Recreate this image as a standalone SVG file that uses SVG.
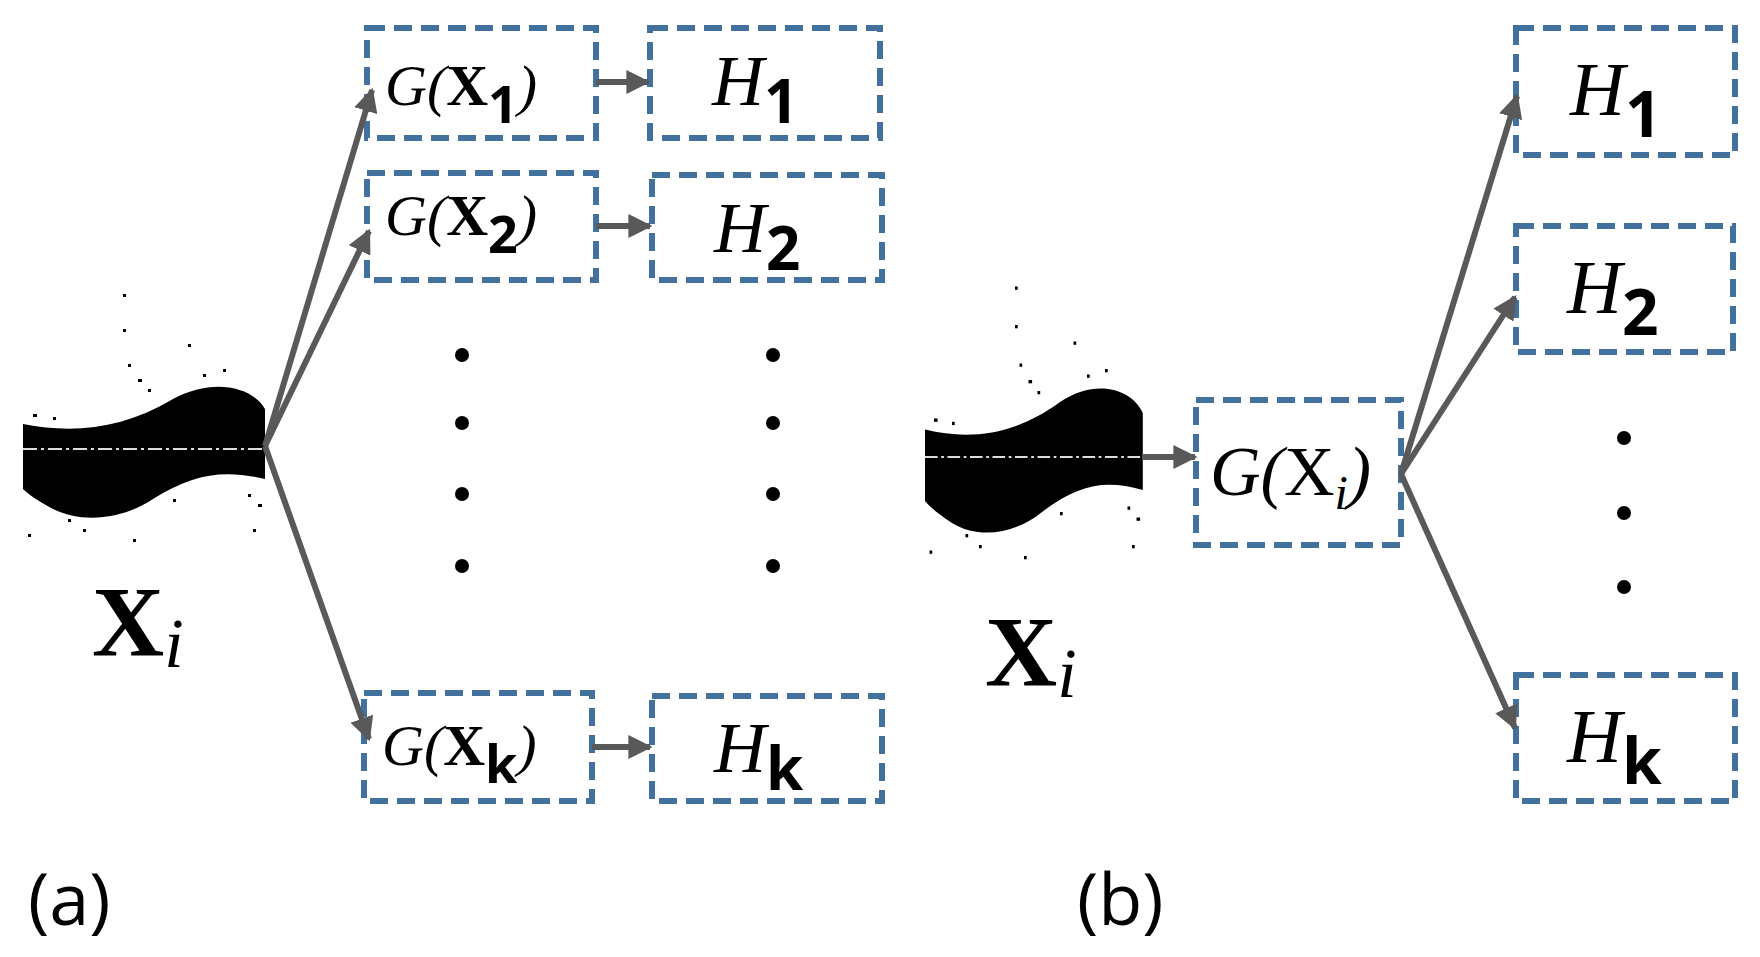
<svg xmlns="http://www.w3.org/2000/svg" width="1760" height="957" viewBox="0 0 1760 957">
<style>
.box{fill:none;stroke:#41719c;stroke-width:6;stroke-dasharray:18 9}
.con{stroke:#595959;stroke-width:6;fill:none;marker-end:url(#ah)}
.m{font-family:"Liberation Serif",serif;font-style:italic;fill:#000}
.x{font-family:"Liberation Serif",serif;font-weight:bold;fill:#000}
.s{font-family:"Open Sans","Liberation Sans",sans-serif;font-weight:bold;fill:#000}
.lab{font-family:"Open Sans","Liberation Sans",sans-serif;font-size:72px;fill:#000}
.dot{fill:#000}
</style>
<defs>
<marker id="ah" viewBox="0 0 10 10" refX="9" refY="5" markerWidth="4" markerHeight="4" orient="auto" markerUnits="strokeWidth"><path d="M0,0L10,5L0,10z" fill="#595959"/></marker>
<g id="scatter">
<path d="M0,-25 C50,-15 100,-20 150,-50 C190,-72 230,-62 242,-40 L242,30 C200,20 170,25 130,50 C100,70 60,75 30,60 C15,52 5,45 0,40 Z" fill="#000"/>
<line x1="0" y1="0" x2="242" y2="0" stroke="#ddd" stroke-width="2" stroke-dasharray="14 4 3 4"/>
<g fill="#000"><rect x="100" y="-155" width="3" height="3"/><rect x="165" y="-105" width="3" height="3"/><rect x="100" y="-120" width="3" height="3"/><rect x="115" y="-70" width="4" height="3"/><rect x="125" y="-60" width="3" height="3"/><rect x="105" y="-85" width="3" height="3"/><rect x="10" y="-35" width="4" height="3"/><rect x="30" y="-32" width="3" height="3"/><rect x="5" y="85" width="3" height="3"/><rect x="110" y="90" width="3" height="3"/><rect x="230" y="80" width="3" height="3"/><rect x="225" y="45" width="3" height="3"/><rect x="235" y="55" width="4" height="3"/><rect x="60" y="80" width="3" height="3"/><rect x="150" y="50" width="3" height="3"/><rect x="200" y="-80" width="3" height="3"/><rect x="180" y="-75" width="3" height="3"/><rect x="45" y="70" width="3" height="3"/></g>
</g>
</defs>

<g id="scatter-a"><use href="#scatter" transform="translate(23,449)"/></g>
<g id="label-xi-a"><text x="92" y="655" class="x" font-size="100">X<tspan class="m" font-weight="normal" font-size="70" dy="12">i</tspan></text></g>

<g id="g1"><rect class="box" x="367" y="28" width="229" height="110"/><text x="385" y="105" class="m" font-size="58">G(<tspan class="x" font-style="normal">X</tspan><tspan class="s" font-style="normal" font-size="52" dy="18">1</tspan><tspan dy="-18">)</tspan></text></g>
<g id="h1a"><rect class="box" x="650" y="28" width="230" height="110"/><text x="712" y="105" class="m" font-size="72">H<tspan class="s" font-style="normal" font-size="60" dy="18">1</tspan></text></g>
<g id="g2"><rect class="box" x="367" y="173" width="229" height="107"/><text x="385" y="235" class="m" font-size="58">G(<tspan class="x" font-style="normal">X</tspan><tspan class="s" font-style="normal" font-size="52" dy="18">2</tspan><tspan dy="-18">)</tspan></text></g>
<g id="h2a"><rect class="box" x="652" y="175" width="230" height="105"/><text x="714" y="252" class="m" font-size="72">H<tspan class="s" font-style="normal" font-size="60" dy="18">2</tspan></text></g>
<g id="gk"><rect class="box" x="364" y="693" width="228" height="108"/><text x="382" y="765" class="m" font-size="58">G(<tspan class="x" font-style="normal">X</tspan><tspan class="s" font-style="normal" font-size="52" dy="18">k</tspan><tspan dy="-18">)</tspan></text></g>
<g id="hka"><rect class="box" x="652" y="696" width="230" height="105"/><text x="714" y="772" class="m" font-size="72">H<tspan class="s" font-style="normal" font-size="60" dy="18">k</tspan></text></g>

<g id="dots-a"><circle class="dot" cx="462" cy="355" r="7"/><circle class="dot" cx="462" cy="423" r="7"/><circle class="dot" cx="462" cy="494" r="7"/><circle class="dot" cx="462" cy="566" r="7"/><circle class="dot" cx="773" cy="355" r="7"/><circle class="dot" cx="773" cy="423" r="7"/><circle class="dot" cx="773" cy="494" r="7"/><circle class="dot" cx="773" cy="566" r="7"/></g>

<g id="scatter-b"><use href="#scatter" transform="translate(925,457) scale(0.9,1.1)"/></g>
<g id="label-xi-b"><text x="985" y="685" class="x" font-size="100">X<tspan class="m" font-weight="normal" font-size="70" dy="12">i</tspan></text></g>
<g id="gi"><rect class="box" x="1196" y="400" width="205" height="145"/><text x="1210" y="495" class="m" font-size="70">G(<tspan font-style="normal">X</tspan><tspan font-size="48" dy="14">i</tspan><tspan dy="-14">)</tspan></text></g>
<g id="h1b"><rect class="box" x="1516" y="28" width="219" height="127"/><text x="1570" y="115" class="m" font-size="76">H<tspan class="s" font-style="normal" font-size="64" dy="22">1</tspan></text></g>
<g id="h2b"><rect class="box" x="1516" y="226" width="217" height="126"/><text x="1567" y="313" class="m" font-size="76">H<tspan class="s" font-style="normal" font-size="64" dy="22">2</tspan></text></g>
<g id="hkb"><rect class="box" x="1516" y="675" width="219" height="126"/><text x="1567" y="762" class="m" font-size="76">H<tspan class="s" font-style="normal" font-size="64" dy="22">k</tspan></text></g>
<g id="dots-b"><circle class="dot" cx="1624" cy="438" r="7"/><circle class="dot" cx="1624" cy="513" r="7"/><circle class="dot" cx="1624" cy="587" r="7"/></g>

<g id="connectors">
<line class="con" x1="265" y1="446" x2="372" y2="90"/>
<line class="con" x1="265" y1="446" x2="369" y2="231"/>
<line class="con" x1="265" y1="446" x2="369" y2="739"/>
<line class="con" x1="596" y1="82" x2="648" y2="82"/>
<line class="con" x1="596" y1="226" x2="650" y2="226"/>
<line class="con" x1="592" y1="747" x2="650" y2="747"/>
<line class="con" x1="1142" y1="457" x2="1195" y2="457"/>
<line class="con" x1="1401" y1="474" x2="1517" y2="96"/>
<line class="con" x1="1401" y1="474" x2="1515" y2="297"/>
<line class="con" x1="1401" y1="474" x2="1515" y2="728"/>
</g>

<text x="28" y="925" class="lab">(a)</text>
<text x="1077" y="925" class="lab">(b)</text>
</svg>
